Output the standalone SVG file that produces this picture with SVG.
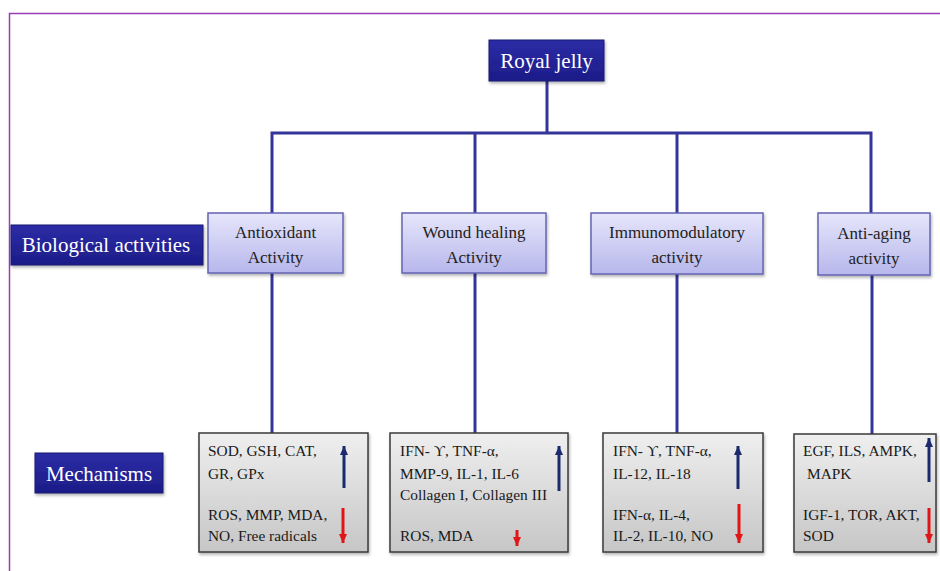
<svg xmlns="http://www.w3.org/2000/svg" width="940" height="571" viewBox="0 0 940 571">
<defs>
<linearGradient id="actGrad" x1="0" y1="0" x2="0" y2="1">
<stop offset="0" stop-color="#e6e6fb"/>
<stop offset="1" stop-color="#b7b7ec"/>
</linearGradient>
<linearGradient id="mechGrad" x1="0" y1="0" x2="0" y2="1">
<stop offset="0" stop-color="#efefef"/>
<stop offset="1" stop-color="#c6c6c6"/>
</linearGradient>
<linearGradient id="navyGrad" x1="0" y1="0" x2="0" y2="1">
<stop offset="0" stop-color="#2c2ca6"/>
<stop offset="1" stop-color="#1c1c88"/>
</linearGradient>
<filter id="sh" x="-10%" y="-10%" width="125%" height="130%">
<feDropShadow dx="1" dy="2" stdDeviation="1.5" flood-color="#000" flood-opacity="0.3"/>
</filter>
<marker id="upB" viewBox="0 0 10 10" refX="5" refY="0" markerWidth="8" markerHeight="9" markerUnits="userSpaceOnUse" orient="0" preserveAspectRatio="none">
<path d="M0,10 L5,0 L10,10 Z" fill="#1b2a6e"/>
</marker>
<marker id="dnR" viewBox="0 0 10 10" refX="5" refY="10" markerWidth="8" markerHeight="9" markerUnits="userSpaceOnUse" orient="0" preserveAspectRatio="none">
<path d="M0,0 L10,0 L5,10 Z" fill="#e01616"/>
</marker>
</defs>
<style>
.t{font-family:"Liberation Serif","Times New Roman",serif;}
.act rect{fill:url(#actGrad);stroke:#6464b4;stroke-width:1.5;filter:url(#sh);}
.act text{font-size:17px;fill:#222;text-anchor:middle;}
.mech rect{fill:url(#mechGrad);stroke:#3a3a3a;stroke-width:1.5;filter:url(#sh);}
.mech text{font-size:15.4px;fill:#1a1a1a;}
.navy rect{fill:url(#navyGrad);stroke:#1a1a70;stroke-width:1;filter:url(#sh);}
.navy text{fill:#fff;text-anchor:middle;}
.conn path{fill:none;stroke:#34349a;stroke-width:3;}
.up{stroke:#1b2a6e;stroke-width:3;marker-end:url(#upB);}
.dn{stroke:#e01616;stroke-width:3;marker-end:url(#dnR);}
</style>
<rect width="940" height="571" fill="#fff"/>
<path d="M9.5,571 V13.5 H940" fill="none" stroke="#9a3cb8" stroke-width="1.5"/>

<g class="conn" id="connectors">
<path d="M547,81 V133"/>
<path d="M272,213 V133 H871 V213"/>
<path d="M475,133 V213"/>
<path d="M677,133 V213"/>
<path d="M272,273 V433"/>
<path d="M475,273 V433"/>
<path d="M677,274 V433"/>
<path d="M872,275 V434"/>
</g>

<g class="navy t" id="royal-jelly">
<rect x="489" y="40" width="115" height="41"/>
<text x="546.5" y="68" font-size="21">Royal jelly</text>
</g>

<g class="navy t" id="biological-activities">
<rect x="11" y="225" width="192" height="40"/>
<text x="106" y="252" font-size="21">Biological activities</text>
</g>

<g class="navy t" id="mechanisms">
<rect x="35" y="453" width="128" height="40"/>
<text x="99" y="481" font-size="21">Mechanisms</text>
</g>

<g class="act t" id="antioxidant">
<rect x="208" y="213" width="135" height="60"/>
<text x="275.5" y="238">Antioxidant</text>
<text x="275.5" y="263">Activity</text>
</g>
<g class="act t" id="wound-healing">
<rect x="402" y="213" width="144" height="60"/>
<text x="474" y="238">Wound healing</text>
<text x="474" y="263">Activity</text>
</g>
<g class="act t" id="immunomodulatory">
<rect x="591" y="213" width="172" height="61"/>
<text x="677" y="238">Immunomodulatory</text>
<text x="677" y="263">activity</text>
</g>
<g class="act t" id="anti-aging">
<rect x="818" y="213" width="112" height="62"/>
<text x="874" y="239">Anti-aging</text>
<text x="874" y="264">activity</text>
</g>

<g class="mech t" id="mech-antioxidant">
<rect x="199" y="433" width="169" height="119"/>
<text x="208" y="456">SOD, GSH, CAT,</text>
<text x="208" y="479">GR, GPx</text>
<text x="208" y="520">ROS, MMP, MDA,</text>
<text x="208" y="541">NO, Free radicals</text>
<line class="up" x1="344" y1="488" x2="344" y2="446"/>
<line class="dn" x1="343" y1="508" x2="343" y2="543"/>
</g>
<g class="mech t" id="mech-wound">
<rect x="390" y="433" width="178" height="119"/>
<text x="400" y="456">IFN- ϒ, TNF-α,</text>
<text x="400" y="479">MMP-9, IL-1, IL-6</text>
<text x="400" y="500">Collagen I, Collagen III</text>
<text x="400" y="541">ROS, MDA</text>
<line class="up" x1="559" y1="491" x2="559" y2="446"/>
<line class="dn" x1="517" y1="530" x2="517" y2="546"/>
</g>
<g class="mech t" id="mech-immuno">
<rect x="603" y="433" width="160" height="119"/>
<text x="613" y="456">IFN- ϒ, TNF-α,</text>
<text x="613" y="479">IL-12, IL-18</text>
<text x="613" y="520">IFN-α, IL-4,</text>
<text x="613" y="541">IL-2, IL-10, NO</text>
<line class="up" x1="738" y1="489" x2="738" y2="446"/>
<line class="dn" x1="739" y1="504" x2="739" y2="543"/>
</g>
<g class="mech t" id="mech-antiaging">
<rect x="794" y="434" width="142" height="118"/>
<text x="803" y="456">EGF, ILS, AMPK,</text>
<text x="807" y="479">MAPK</text>
<text x="803" y="520">IGF-1, TOR, AKT,</text>
<text x="803" y="541">SOD</text>
<line class="up" x1="929" y1="482" x2="929" y2="438"/>
<line class="dn" x1="929" y1="508" x2="929" y2="543"/>
</g>
</svg>
